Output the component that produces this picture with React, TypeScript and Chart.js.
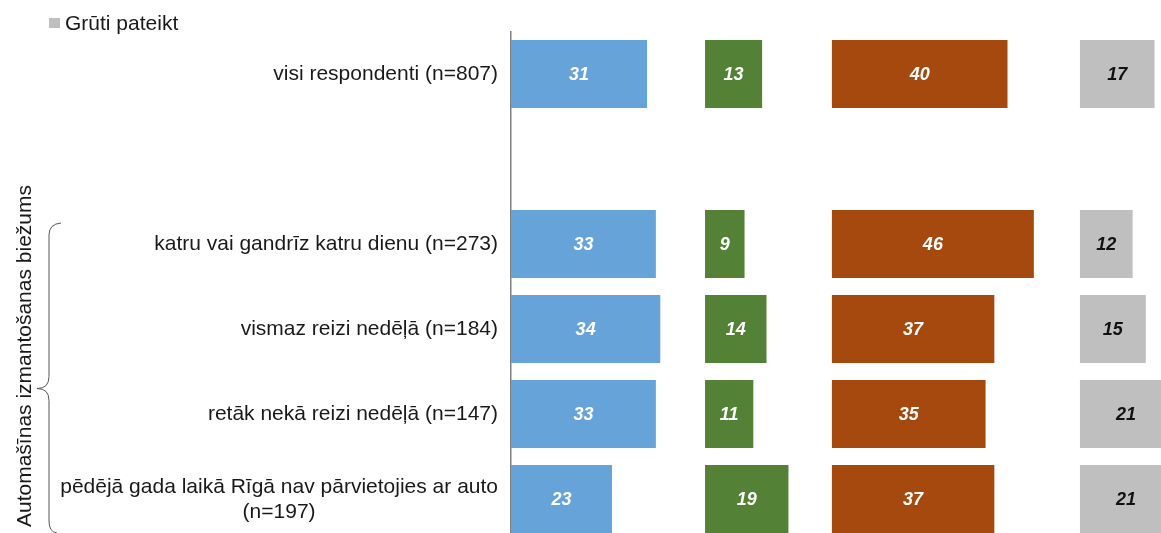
import React, { useEffect, useRef } from 'react';
import { Chart, registerables } from 'chart.js';

Chart.register(...registerables);

// ---- data ----
const categories: string[][] = [
  ['visi respondenti (n=807)'],
  [''],
  ['katru vai gandrīz katru dienu (n=273)'],
  ['vismaz reizi nedēļā (n=184)'],
  ['retāk nekā reizi nedēļā (n=147)'],
  ['pēdējā gada laikā Rīgā nav pārvietojies ar auto', '(n=197)'],
];
const seriesNames = ['Sērija 1', 'Sērija 2', 'Sērija 3', 'Grūti pateikt'];
const seriesBlue: (number | null)[] = [31, null, 33, 34, 33, 23];
const seriesGreen: (number | null)[] = [13, null, 9, 14, 11, 19];
const seriesOrange: (number | null)[] = [40, null, 46, 37, 35, 37];
const seriesGray: (number | null)[] = [17, null, 12, 15, 21, 21];
const groupTitle = 'Automašīnas izmantošanas biežums';

// ---- layout / style ----
const colors = ['#65A3D9', '#538135', '#A5490F', '#BFBFBF'];
const labelColors = ['#ffffff', '#ffffff', '#ffffff', '#111111'];
const columnStarts = [0, 44.2, 73.1, 129.6];
const X_MAX = 155;
const PX_PER_UNIT = 4.39;
const AXIS_LEFT = 511;
const CANVAS_W = 1200;
const CANVAS_H = 545;
const FONT = '"Liberation Sans", Arial, sans-serif';

const allSeries = [seriesBlue, seriesGreen, seriesOrange, seriesGray];

const valueLabelPlugin = {
  id: 'valueLabels',
  afterDatasetsDraw(chart: any) {
    const ctx = chart.ctx;
    ctx.save();
    ctx.font = `italic bold 18px ${FONT}`;
    ctx.textAlign = 'center';
    ctx.textBaseline = 'middle';
    chart.data.datasets.forEach((_ds: any, di: number) => {
      const meta = chart.getDatasetMeta(di);
      meta.data.forEach((el: any, i: number) => {
        const v = allSeries[di][i];
        if (v == null) return;
        const { x, y, base } = el.getProps(['x', 'y', 'base'], true);
        ctx.fillStyle = labelColors[di];
        ctx.fillText(String(v), (x + base) / 2, y + 1);
      });
    });
    ctx.restore();
  },
};

const categoryLabelPlugin = {
  id: 'categoryLabels',
  afterDraw(chart: any) {
    const ctx = chart.ctx;
    const yScale = chart.scales.y;
    const right = chart.chartArea.left - 13;
    const lineH = 25;
    ctx.save();
    ctx.font = `21px ${FONT}`;
    ctx.fillStyle = '#1a1a1a';
    ctx.textBaseline = 'middle';
    categories.forEach((lines, i) => {
      const cy = yScale.getPixelForTick(i);
      if (lines.length === 1) {
        ctx.textAlign = 'right';
        ctx.fillText(lines[0], right, cy);
      } else {
        const maxW = Math.max(...lines.map((l) => ctx.measureText(l).width));
        const cx = right - maxW / 2;
        ctx.textAlign = 'center';
        const startY = cy - ((lines.length - 1) * lineH) / 2 + 1;
        lines.forEach((l, k) => ctx.fillText(l, cx, startY + k * lineH));
      }
    });

    // group bracket
    const yTop = yScale.getPixelForTick(2) - 21;
    const yBot = yScale.getPixelForTick(5) + 34;
    const yMid = (yScale.getPixelForTick(3) + yScale.getPixelForTick(4)) / 2 + 17;
    ctx.strokeStyle = '#555555';
    ctx.lineWidth = 1;
    ctx.beginPath();
    ctx.moveTo(61, yTop);
    ctx.quadraticCurveTo(49, yTop + 1, 49, yTop + 12);
    ctx.lineTo(49, yMid - 12);
    ctx.quadraticCurveTo(49, yMid, 37, yMid);
    ctx.quadraticCurveTo(49, yMid, 49, yMid + 12);
    ctx.lineTo(49, yBot - 12);
    ctx.quadraticCurveTo(49, yBot - 1, 57, yBot);
    ctx.stroke();

    // rotated group title
    ctx.translate(25, 356);
    ctx.rotate(-Math.PI / 2);
    ctx.textAlign = 'center';
    ctx.textBaseline = 'middle';
    ctx.fillStyle = '#1a1a1a';
    ctx.fillText(groupTitle, 0, 0);
    ctx.restore();
  },
};

export default function App() {
  const canvasRef = useRef<HTMLCanvasElement | null>(null);

  useEffect(() => {
    if (!canvasRef.current) return;
    const datasets = allSeries.map((vals, di) => ({
      label: seriesNames[di],
      data: vals.map((v) => (v == null ? null : [columnStarts[di], columnStarts[di] + v])),
      backgroundColor: colors[di],
      borderWidth: 0,
      grouped: false,
      barPercentage: 0.8,
      categoryPercentage: 1.0,
    }));
    const chart = new Chart(canvasRef.current, {
      type: 'bar',
      data: {
        labels: categories.map((c) => c.join(' ')),
        datasets: datasets as any,
      },
      options: {
        indexAxis: 'y',
        responsive: false,
        animation: false,
        devicePixelRatio: 1,
        layout: {
          padding: {
            left: 0,
            top: 31.5,
            bottom: 3.5,
            right: CANVAS_W - AXIS_LEFT - PX_PER_UNIT * X_MAX,
          },
        },
        plugins: {
          legend: { display: false },
          tooltip: { enabled: false },
        },
        scales: {
          x: {
            display: false,
            min: 0,
            max: X_MAX,
          },
          y: {
            type: 'category',
            grid: { display: false },
            ticks: { display: false },
            border: { display: true, color: '#7f7f7f', width: 1.5 },
            afterFit: (scale: any) => {
              scale.width = AXIS_LEFT;
            },
          },
        },
      },
      plugins: [valueLabelPlugin, categoryLabelPlugin],
    });
    return () => chart.destroy();
  }, []);

  return (
    <div
      style={{
        position: 'fixed',
        left: 0,
        top: 0,
        width: 1161,
        height: 533,
        overflow: 'hidden',
        background: '#ffffff',
      }}
    >
      <canvas
        ref={canvasRef}
        width={CANVAS_W}
        height={CANVAS_H}
        style={{ position: 'absolute', left: 0, top: 0, width: CANVAS_W, height: CANVAS_H }}
      />
      <div
        style={{
          position: 'absolute',
          left: 49,
          top: 18,
          width: 11,
          height: 10,
          background: colors[3],
        }}
      />
      <span
        style={{
          position: 'absolute',
          left: 65,
          top: 11,
          fontFamily: FONT,
          fontSize: 21,
          lineHeight: '24px',
          color: '#1a1a1a',
          whiteSpace: 'nowrap',
        }}
      >
        {seriesNames[3]}
      </span>
    </div>
  );
}
